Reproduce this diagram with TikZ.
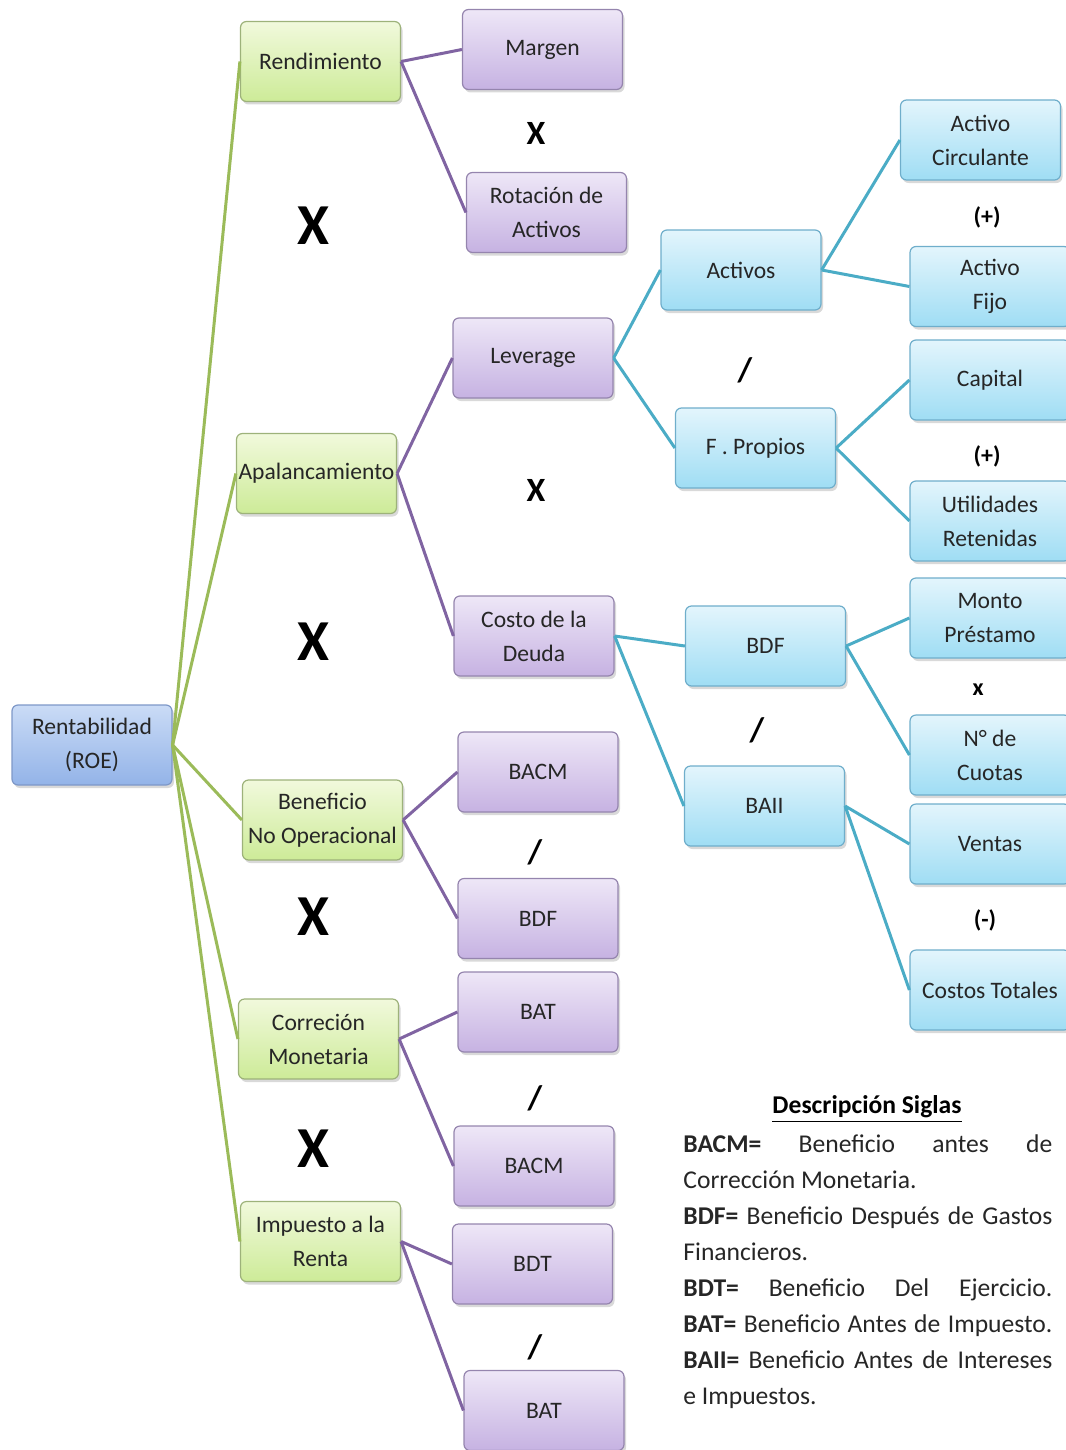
\documentclass[tikz,border=0pt]{standalone}
\usepackage{fontspec}
\setmainfont{Carlito}
\usetikzlibrary{shadows}
\definecolor{roeTop}{HTML}{CADBF6}
\definecolor{roeBot}{HTML}{93B3E8}
\definecolor{roeLine}{HTML}{7E98C8}
\definecolor{grnTop}{HTML}{F1F9DC}
\definecolor{grnBot}{HTML}{CDEB98}
\definecolor{grnLine}{HTML}{9DB27A}
\definecolor{purTop}{HTML}{EEE7F7}
\definecolor{purBot}{HTML}{C6B2E2}
\definecolor{purLine}{HTML}{9585AE}
\definecolor{bluTop}{HTML}{E3F5FC}
\definecolor{bluBot}{HTML}{9FDDF4}
\definecolor{bluLine}{HTML}{6FAECB}
\definecolor{grnLink}{HTML}{9BBB59}
\definecolor{purLink}{HTML}{8064A2}
\definecolor{bluLink}{HTML}{4BACC6}
\newlength{\siglaw}
\setlength{\siglaw}{184.5pt}
\newcommand{\siglaline}[1]{\makebox[\siglaw][s]{#1}}
\tikzset{
  basenode/.style={
    draw, rounded corners=3pt, minimum width=80pt, minimum height=40pt,
    align=center, font=\fontsize{11.8}{17}\selectfont, text=black!85,
    line width=0.6pt, inner sep=1pt,
    drop shadow={opacity=0.3, shadow xshift=1pt, shadow yshift=-1.5pt}
  },
  roenode/.style={basenode, top color=roeTop, bottom color=roeBot, draw=roeLine},
  greennode/.style={basenode, top color=grnTop, bottom color=grnBot, draw=grnLine},
  purplenode/.style={basenode, top color=purTop, bottom color=purBot, draw=purLine},
  bluenode/.style={basenode, top color=bluTop, bottom color=bluBot, draw=bluLine},
  greenlink/.style={line width=1.5pt, grnLink},
  purplelink/.style={line width=1.5pt, purLink},
  bluelink/.style={line width=1.5pt, bluLink},
  bigop/.style={font=\fontsize{29}{29}\selectfont\bfseries, inner sep=0pt},
  midop/.style={font=\fontsize{17}{17}\selectfont\bfseries, inner sep=0pt},
  signop/.style={font=\fontsize{12}{12}\selectfont\bfseries, inner sep=0pt},
  legendhead/.style={font=\fontsize{12.8}{18}\selectfont, inner sep=0pt},
  legendtext/.style={font=\fontsize{12.8}{18}\selectfont, align=left, inner sep=0pt, text=black!85}
}

\begin{document}
\begin{tikzpicture}[x=0.5pt, y=-0.5pt]
  \useasboundingbox (0,0) rectangle (1065,1450);

  % raiz
  \node[roenode] (roe) at (92,745) {Rentabilidad\\(ROE)};

  % factores del ROE
  \foreach \nm/\px/\py/\lbl in {
    rend/320.5/61.5/{Rendimiento},
    apal/316.5/473.5/{Apalancamiento},
    bno/322.5/820/{Beneficio\\No Operacional},
    corr/318.5/1039/{Correción\\Monetaria},
    imp/320.5/1241.5/{Impuesto a la\\Renta}}{
    \node[greennode] (g-\nm) at (\px,\py) {\lbl};
  }

  \foreach \nm/\px/\py/\lbl in {
    marg/542.5/49.5/{Margen},
    rot/546.5/212.5/{Rotación de\\Activos},
    lev/533/358/{Leverage},
    costo/534/636/{Costo de la\\Deuda},
    bacma/538/772/{BACM},
    bdfa/538/918.5/{BDF},
    bata/538/1012/{BAT},
    bacmb/534/1166/{BACM},
    bdt/532.5/1264/{BDT},
    batb/544/1410.5/{BAT}}{
    \node[purplenode] (p-\nm) at (\px,\py) {\lbl};
  }

  \foreach \nm/\px/\py/\lbl in {
    act/741/270/{Activos},
    fp/755.5/448/{F . Propios},
    bdf/765.5/646/{BDF},
    baii/764.5/806/{BAII}}{
    \node[bluenode] (b-\nm) at (\px,\py) {\lbl};
  }

  \foreach \nm/\px/\py/\lbl in {
    ac/980.5/140/{Activo\\Circulante},
    af/990/286.5/{Activo\\Fijo},
    cap/990/380/{Capital},
    ur/990/521/{Utilidades\\Retenidas},
    mp/990/618/{Monto\\Préstamo},
    nc/990/755/{N° de\\Cuotas},
    ven/990/844/{Ventas},
    ct/990/990/{Costos Totales}}{
    \node[bluenode] (c-\nm) at (\px,\py) {\lbl};
  }

  % conectores
  \foreach \b in {rend,apal,bno,corr,imp}{
    \draw[greenlink] (roe.east) -- (g-\b.west);
  }
  \foreach \a/\b in {rend/marg, rend/rot, apal/lev, apal/costo, bno/bacma,
                     bno/bdfa, corr/bata, corr/bacmb, imp/bdt, imp/batb}{
    \draw[purplelink] (g-\a.east) -- (p-\b.west);
  }
  \foreach \a/\b in {lev/act, lev/fp, costo/bdf, costo/baii}{
    \draw[bluelink] (p-\a.east) -- (b-\b.west);
  }
  \foreach \a/\b in {act/ac, act/af, fp/cap, fp/ur, bdf/mp, bdf/nc, baii/ven, baii/ct}{
    \draw[bluelink] (b-\a.east) -- (c-\b.west);
  }

  % operadores
  \foreach \i/\px/\py in {1/313/226, 2/313/642, 3/313/917, 4/313/1149}{
    \node[bigop] (xbig-\i) at (\px,\py) {X};
  }
  \node[midop] (xmid-1) at (536,133) {X};
  \node[midop] (xmid-2) at (536,490) {X};
  \foreach \i/\px/\py in {1/745/370, 2/757/730, 3/535/852, 4/535/1098, 5/535/1347}{
    \node[midop] (div-\i) at (\px,\py) {/};
  }
  \node[signop] (plus-1) at (987,217) {(+)};
  \node[signop] (plus-2) at (987,456) {(+)};
  \node[signop] (minus-1) at (985,920) {(-)};
  \node[signop] (times-1) at (978,690) {x};

  % leyenda
  \node[legendhead] (siglas-t) at (867,1109) {\underline{\textbf{Descripción Siglas}}};
  \node[legendtext, anchor=north west] (siglas) at (683,1134) {%
    \siglaline{\textbf{BACM=} Beneficio antes de}\\
    Corrección Monetaria.\\
    \siglaline{\textbf{BDF=} Beneficio Después de Gastos}\\
    Financieros.\\
    \siglaline{\textbf{BDT=} Beneficio Del Ejercicio.}\\
    \siglaline{\textbf{BAT=} Beneficio Antes de Impuesto.}\\
    \siglaline{\textbf{BAII=} Beneficio Antes de Intereses}\\
    e Impuestos.};
\end{tikzpicture}
\end{document}
